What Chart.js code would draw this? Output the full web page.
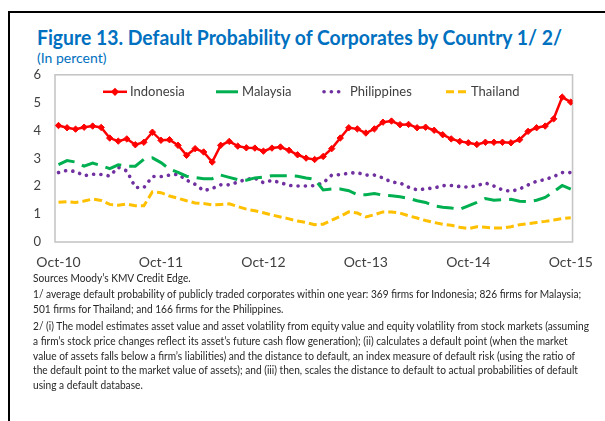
<!DOCTYPE html>
<html><head><meta charset="utf-8">
<script src="https://cdn.jsdelivr.net/npm/chart.js@4.4.1/dist/chart.umd.min.js"></script>
<style>
html,body{margin:0;padding:0;background:#fff;width:605px;height:421px;overflow:hidden;font-family:Lato,'Liberation Sans',sans-serif;}
#frame{position:absolute;left:8px;top:11px;width:700px;height:500px;border-left:2.5px solid #000;border-top:2.5px solid #000;}
#title{position:absolute;left:37px;top:25px;font-weight:bold;font-size:20px;line-height:24px;color:#0070C0;white-space:nowrap;transform-origin:0 0;}
#sub{position:absolute;left:37px;top:49px;font-size:14px;line-height:17px;color:#0070C0;white-space:nowrap;transform-origin:0 0;}
#wrap{position:absolute;left:0;top:53px;width:605px;height:219px;}
#notes{position:absolute;left:33px;top:271px;font-size:11px;line-height:14.9px;color:#262626;white-space:nowrap;transform-origin:0 0;}
#notes .gap{margin-top:1.5px;}
</style></head>
<body>
<div id="frame"></div>
<div id="title">Figure 13. Default Probability of Corporates by Country 1/ 2/</div>
<div id="sub">(In percent)</div>
<div id="wrap"><canvas id="c"></canvas></div>
<div id="notes">
<div>Sources Moody’s KMV Credit Edge.</div>
<div class="gap">1/ average default probability of publicly traded corporates within one year: 369 firms for Indonesia; 826 firms for Malaysia;</div>
<div>501 firms for Thailand; and 166 firms for the Philippines.</div>
<div id="longest" class="gap">2/ (i) The model estimates asset value and asset volatility from equity value and equity volatility from stock markets (assuming</div>
<div>a firm’s stock price changes reflect its asset’s future cash flow generation); (ii) calculates a default point (when the market</div>
<div>value of assets falls below a firm’s liabilities) and the distance to default, an index measure of default risk (using the ratio of</div>
<div>the default point to the market value of assets); and (iii) then, scales the distance to default to actual probabilities of default</div>
<div>using a default database.</div>
</div>
<script>
// Monthly observations, Oct-2010 .. Oct-2015 (61 months)
const tickLabels = ["Oct-10","Oct-11","Oct-12","Oct-13","Oct-14","Oct-15"];
const tickIndex = [0,12,24,36,48,60];
const seriesNames = ["Indonesia","Malaysia","Philippines","Thailand"];

const indonesia = [4.18,4.10,4.05,4.12,4.16,4.11,3.73,3.62,3.70,3.49,3.58,3.94,3.65,3.67,3.47,
  3.11,3.35,3.23,2.87,3.47,3.61,3.44,3.38,3.37,3.26,3.37,3.41,3.29,3.13,3.01,
  2.96,3.07,3.35,3.73,4.10,4.06,3.91,4.06,4.30,4.34,4.21,4.22,4.10,4.12,4.01,
  3.85,3.70,3.61,3.56,3.50,3.58,3.58,3.58,3.56,3.67,3.97,4.10,4.16,4.42,5.20,5.02];
const malaysia = [2.78,2.92,2.87,2.72,2.83,2.74,2.63,2.77,2.72,2.72,2.97,3.02,2.85,2.62,2.50,
  2.36,2.31,2.27,2.27,2.40,2.32,2.24,2.22,2.30,2.33,2.38,2.38,2.38,2.36,2.30,
  2.25,1.87,1.90,1.90,1.84,1.70,1.70,1.74,1.68,1.66,1.62,1.57,1.48,1.42,1.30,
  1.25,1.22,1.17,1.30,1.42,1.56,1.50,1.52,1.53,1.46,1.45,1.50,1.60,1.80,2.03,1.90];
const philippines = [2.49,2.57,2.53,2.38,2.43,2.42,2.37,2.68,2.55,1.96,1.95,2.35,2.35,2.40,2.43,
  2.22,2.07,1.84,1.92,2.05,2.05,2.15,2.25,2.29,2.13,2.21,2.13,2.03,2.01,2.01,
  2.02,2.12,2.40,2.42,2.47,2.49,2.40,2.40,2.30,2.15,2.12,1.97,1.87,1.91,1.94,
  2.02,2.03,1.99,1.97,2.02,2.12,2.01,1.87,1.82,1.90,2.05,2.18,2.24,2.35,2.49,2.49];
const thailand = [1.43,1.45,1.42,1.47,1.54,1.49,1.35,1.32,1.36,1.30,1.30,1.80,1.77,1.65,1.57,
  1.48,1.40,1.38,1.33,1.35,1.37,1.27,1.18,1.12,1.05,0.97,0.90,0.83,0.75,0.70,
  0.62,0.64,0.78,0.92,1.08,1.04,0.90,0.98,1.08,1.08,1.04,0.94,0.86,0.77,0.70,
  0.64,0.60,0.53,0.48,0.55,0.53,0.50,0.50,0.55,0.62,0.66,0.70,0.74,0.79,0.84,0.87];

const toXY = arr => arr.map((v,i)=>({x:i,y:v}));

// fit text blocks horizontally
function fitWidth(el, measureEl, target){
  const w = measureEl.getBoundingClientRect().width;
  if (w>0) el.style.transform = 'scaleX(' + (target/w) + ')';
}
const longest = document.getElementById('longest');
longest.style.display='inline-block';
fitWidth(document.getElementById('notes'), longest, 556);
longest.style.display='block';
const t = document.getElementById('title'); t.style.display='inline-block';
fitWidth(t, t, 525);

const legendLayout = [{x0:103,x1:127,tx:130},{x0:216,x1:238,tx:242},{x0:324,x1:344,tx:350},{x0:446,x1:470,tx:471}];

const plotFrame = {
  id:'plotFrame',
  beforeDatasetsDraw(chart){
    const {ctx, chartArea:a} = chart;
    ctx.save(); ctx.strokeStyle='#C6C6C6'; ctx.lineWidth=1.6;
    ctx.strokeRect(a.left, a.top, a.right-a.left, a.bottom-a.top);
    ctx.restore();
  }
};
const innerLegend = {
  id:'innerLegend',
  afterDraw(chart){
    const ctx = chart.ctx; const y = chart.chartArea.top + 17;
    chart.data.datasets.forEach((ds,i)=>{
      const L = legendLayout[i];
      ctx.save();
      ctx.strokeStyle = ds.borderColor; ctx.lineWidth = ds.borderWidth;
      ctx.lineCap = ds.borderCapStyle || 'butt';
      ctx.setLineDash(i===1 ? [] : (ds.borderDash||[]));
      ctx.beginPath(); ctx.moveTo(L.x0,y); ctx.lineTo(L.x1,y); ctx.stroke();
      if (ds.pointRadius>0){
        const m=(L.x0+L.x1)/2, r=ds.pointRadius;
        ctx.setLineDash([]); ctx.fillStyle=ds.pointBackgroundColor;
        ctx.beginPath(); ctx.moveTo(m,y-r*1.3); ctx.lineTo(m+r*1.3,y); ctx.lineTo(m,y+r*1.3); ctx.lineTo(m-r*1.3,y); ctx.closePath(); ctx.fill();
      }
      ctx.fillStyle='#404040'; ctx.font='13px Lato, "Liberation Sans", sans-serif';
      ctx.textBaseline='middle'; ctx.textAlign='left';
      ctx.fillText(ds.label, L.tx, y);
      ctx.restore();
    });
  }
};

Chart.defaults.font.family = 'Lato, "Liberation Sans", sans-serif';
new Chart(document.getElementById('c'), {
  type:'line',
  data:{datasets:[
    {label:seriesNames[0], data:toXY(indonesia), borderColor:'#FF0000', borderWidth:2.5,
      pointStyle:'rectRot', pointRadius:3.2, pointBackgroundColor:'#FF0000', pointBorderColor:'#FF0000', pointBorderWidth:1, tension:0},
    {label:seriesNames[1], data:toXY(malaysia), borderColor:'#00B050', borderWidth:3, borderDash:[17,8], pointRadius:0, tension:0},
    {label:seriesNames[2], data:toXY(philippines), borderColor:'#7030A0', borderWidth:3.6, borderDash:[0.1,7.2], borderCapStyle:'round', pointRadius:0, tension:0},
    {label:seriesNames[3], data:toXY(thailand), borderColor:'#FFC000', borderWidth:3, borderDash:[8,4], pointRadius:0, tension:0}
  ]},
  options:{
    responsive:true, maintainAspectRatio:false, animation:false,
    layout:{padding:{top:6,right:30,left:0,bottom:0}},
    plugins:{legend:{display:false}, tooltip:{enabled:false}},
    scales:{
      x:{type:'linear', min:-0.41, max:60.21,
        grid:{display:false, drawTicks:false}, border:{display:false},
        afterBuildTicks(s){ s.ticks = tickIndex.map(v=>({value:v})); },
        afterFit(s){ s.height = 30; },
        ticks:{autoSkip:false, maxRotation:0, padding:12, color:'#404040', font:{size:14},
          callback:(v)=>tickLabels[tickIndex.indexOf(v)]}},
      y:{min:0, max:6, grid:{display:false, drawTicks:false}, border:{display:false},
        afterFit(s){ s.width = 55; },
        ticks:{stepSize:1, padding:14, color:'#404040', font:{size:13}}}
    }
  },
  plugins:[plotFrame, innerLegend]
});
</script>
</body></html>
